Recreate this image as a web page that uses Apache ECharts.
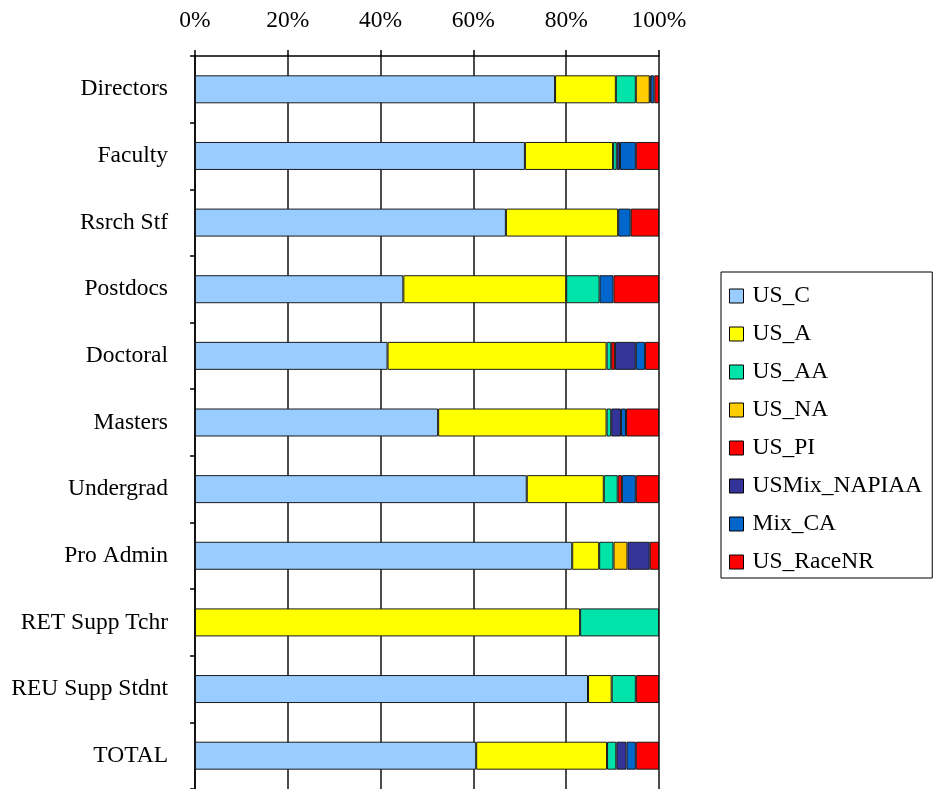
<!DOCTYPE html>
<html>
<head>
<meta charset="utf-8">
<script src="https://cdn.jsdelivr.net/npm/echarts@6/dist/echarts.min.js"></script>
<style>
html,body{margin:0;padding:0;background:#fff;}
#chart{width:935px;height:789px;}
</style>
</head>
<body>
<div id="chart"></div>
<script>
const categories = ['Directors','Faculty','Rsrch Stf','Postdocs','Doctoral','Masters','Undergrad','Pro Admin','RET Supp Tchr','REU Supp Stdnt','TOTAL'];
const xTicks = [0,20,40,60,80,100];
const US_C      = [77.6, 71.1, 67.0, 44.9, 41.5, 52.4, 71.5, 81.3, 0,    84.7, 60.6];
const US_A      = [13.1, 19.0, 24.2, 35.1, 47.2, 36.3, 16.6, 5.8,  83.0, 5.1,  28.2];
const US_AA     = [4.3,  0.8,  0,    7.2,  1.0,  1.0,  3.0,  3.1,  17.0, 5.2,  2.0];
const US_NA     = [3.0,  0,    0,    0,    0,    0,    0,    3.0,  0,    0,    0];
const US_PI     = [0,    0,    0,    0,    0.8,  0,    0.9,  0,    0,    0,    0];
const USMix_NAPIAA = [0.2, 0.7, 0,   0,    4.5,  2.1,  0,    4.8,  0,    0,    2.2];
const Mix_CA    = [0.8,  3.4,  2.7,  3.0,  2.0,  1.1,  3.0,  0,    0,    0,    2.0];
const US_RaceNR = [1.0,  5.0,  6.1,  9.8,  3.0,  7.1,  5.0,  2.0,  0,    5.0,  5.0];

const seriesDefs = [
  ['US_C', US_C, '#99CCFF'],
  ['US_A', US_A, '#FFFF00'],
  ['US_AA', US_AA, '#00E3A9'],
  ['US_NA', US_NA, '#FFCC00'],
  ['US_PI', US_PI, '#FF0000'],
  ['USMix_NAPIAA', USMix_NAPIAA, '#333399'],
  ['Mix_CA', Mix_CA, '#0066CC'],
  ['US_RaceNR', US_RaceNR, '#FF0000']
];
const FONT = 'Liberation Serif';
const FS = 23.5;
const chart = echarts.init(document.getElementById('chart'));
chart.setOption({
  backgroundColor: '#fff',
  animation: false,
  textStyle: {fontFamily: FONT, color: '#000'},
  grid: {left: 195, right: 276, top: 56, height: 738},
  legend: {
    orient: 'vertical',
    left: 721, top: 272,
    padding: [12, 10, 4, 8],
    borderColor: '#000', borderWidth: 1,
    itemWidth: 14, itemHeight: 14, itemGap: 14,
    icon: 'rect',
    itemStyle: {borderColor: '#000', borderWidth: 1},
    textStyle: {fontFamily: FONT, fontSize: FS, color: '#000', lineHeight: 22, padding: [0,0,0,4]},
    data: seriesDefs.map(d => d[0])
  },
  xAxis: {
    type: 'value', position: 'top', min: 0, max: 100, interval: 20,
    axisLine: {show: true, lineStyle: {color: '#000', width: 1.5}},
    axisTick: {show: true, length: 6, lineStyle: {color: '#000', width: 1.5}},
    splitLine: {show: true, lineStyle: {color: '#111', width: 1.5}},
    axisLabel: {formatter: v => xTicks.includes(v) ? v + '%' : '', fontFamily: FONT, fontSize: FS, color: '#000', margin: 23}
  },
  yAxis: {
    type: 'category', inverse: true, data: categories,
    axisLine: {show: true, lineStyle: {color: '#000', width: 1.5}},
    axisTick: {show: true, length: 5, lineStyle: {color: '#000', width: 1.5}},
    axisLabel: {fontFamily: FONT, fontSize: FS, color: '#000', margin: 27, padding: [7,0,0,0]}
  },
  series: seriesDefs.map(d => ({
    name: d[0], type: 'bar', stack: 'total',
    barCategoryGap: '58%',
    itemStyle: {color: d[2], borderColor: '#1a1a1a', borderWidth: 1},
    data: d[1].map(v => v === 0 ? '-' : v)
  }))
});
</script>
</body>
</html>
